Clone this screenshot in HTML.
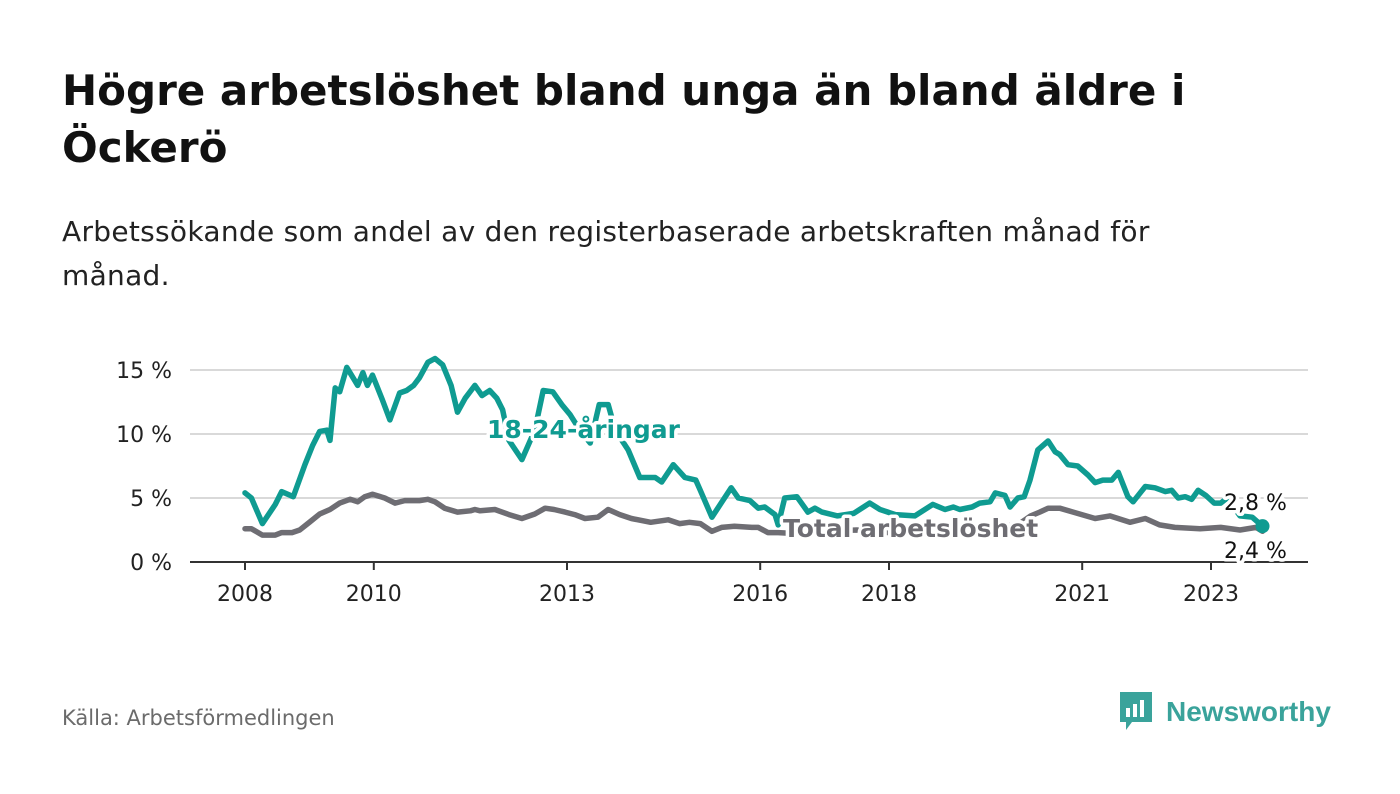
<!DOCTYPE html>
<html><head><meta charset="utf-8"><style>
body{margin:0;width:1400px;height:794px;background:#fff;font-family:"DejaVu Sans","Liberation Sans",sans-serif;overflow:hidden;position:relative;color:#111}
h1{position:absolute;left:62px;top:62px;margin:0;font-size:42px;line-height:57px;font-weight:bold;width:1300px;white-space:nowrap}
.sub{position:absolute;left:62px;top:210px;font-size:28px;line-height:44px;color:#222;width:1300px;white-space:nowrap;letter-spacing:0.3px}
.src{position:absolute;left:62px;top:706px;font-size:21px;color:#6b6b6b}
svg{position:absolute;left:0;top:0}
</style></head><body>
<h1>Högre arbetslöshet bland unga än bland äldre i<br>Öckerö</h1>
<div class="sub">Arbetssökande som andel av den registerbaserade arbetskraften månad för<br>månad.</div>
<div class="src">Källa: Arbetsförmedlingen</div>
<svg id="chart" width="1400" height="794"></svg>
<script>
const yTicks=[0,5,10,15];
const yTickLabels=["0 %","5 %","10 %","15 %"];
const xTicks=[2008,2010,2013,2016,2018,2021,2023];
const youngDates=[2008.0,2008.1,2008.27,2008.47,2008.57,2008.75,2008.93,2009.05,2009.16,2009.27,2009.32,2009.4,2009.47,2009.58,2009.75,2009.83,2009.9,2009.98,2010.13,2010.25,2010.4,2010.51,2010.62,2010.71,2010.84,2010.95,2011.07,2011.2,2011.3,2011.42,2011.57,2011.68,2011.8,2011.91,2012.0,2012.1,2012.3,2012.5,2012.63,2012.78,2012.92,2013.05,2013.2,2013.36,2013.5,2013.64,2013.75,2013.95,2014.13,2014.37,2014.47,2014.65,2014.83,2015.0,2015.07,2015.25,2015.38,2015.55,2015.66,2015.84,2015.97,2016.07,2016.23,2016.28,2016.38,2016.57,2016.74,2016.85,2016.96,2017.2,2017.45,2017.7,2017.86,2018.1,2018.4,2018.68,2018.87,2019.0,2019.1,2019.29,2019.41,2019.57,2019.65,2019.8,2019.88,2020.0,2020.1,2020.19,2020.31,2020.47,2020.58,2020.65,2020.78,2020.93,2021.09,2021.2,2021.32,2021.46,2021.56,2021.71,2021.79,2021.98,2022.13,2022.29,2022.39,2022.49,2022.6,2022.7,2022.8,2022.92,2023.05,2023.15,2023.25,2023.45,2023.64,2023.8];
const youngValues=[5.4,5.0,3.0,4.5,5.5,5.1,7.6,9.1,10.2,10.3,9.5,13.6,13.3,15.2,13.8,14.8,13.8,14.6,12.7,11.1,13.2,13.4,13.8,14.4,15.6,15.9,15.4,13.8,11.7,12.8,13.8,13.0,13.4,12.8,11.9,9.5,8.0,10.3,13.4,13.3,12.3,11.5,10.3,9.3,12.3,12.3,10.3,8.75,6.6,6.6,6.25,7.6,6.6,6.4,5.6,3.5,4.5,5.8,5.0,4.8,4.2,4.3,3.7,2.9,5.0,5.1,3.9,4.2,3.9,3.6,3.8,4.6,4.1,3.7,3.6,4.5,4.1,4.3,4.1,4.3,4.6,4.7,5.4,5.2,4.3,5.0,5.1,6.4,8.75,9.45,8.6,8.4,7.6,7.5,6.8,6.2,6.4,6.4,7.0,5.1,4.7,5.9,5.8,5.5,5.6,5.0,5.1,4.9,5.6,5.2,4.6,4.6,5.0,3.6,3.5,2.8];
const totalDates=[2008.0,2008.1,2008.27,2008.47,2008.57,2008.73,2008.85,2009.0,2009.16,2009.32,2009.47,2009.63,2009.75,2009.86,2009.98,2010.17,2010.33,2010.48,2010.71,2010.84,2010.95,2011.1,2011.3,2011.5,2011.57,2011.65,2011.88,2012.1,2012.3,2012.5,2012.66,2012.8,2012.97,2013.12,2013.28,2013.48,2013.64,2013.82,2014.0,2014.3,2014.57,2014.75,2014.9,2015.07,2015.25,2015.4,2015.6,2015.87,2015.97,2016.12,2016.28,2016.6,2017.0,2017.5,2018.0,2018.5,2019.0,2019.5,2020.0,2020.2,2020.34,2020.47,2020.65,2020.86,2021.2,2021.43,2021.74,2021.98,2022.2,2022.44,2022.83,2023.15,2023.45,2023.7,2023.8];
const totalValues=[2.6,2.6,2.1,2.1,2.3,2.3,2.5,3.1,3.75,4.1,4.6,4.9,4.7,5.1,5.3,5.0,4.6,4.8,4.8,4.9,4.7,4.2,3.9,4.0,4.1,4.0,4.1,3.7,3.4,3.75,4.2,4.1,3.9,3.7,3.4,3.5,4.1,3.7,3.4,3.1,3.3,3.0,3.1,3.0,2.4,2.7,2.8,2.7,2.7,2.3,2.3,2.2,2.4,2.5,2.3,2.4,2.6,2.7,2.9,3.6,3.9,4.2,4.2,3.9,3.4,3.6,3.1,3.4,2.9,2.7,2.6,2.7,2.5,2.7,2.4];
const NS="http://www.w3.org/2000/svg";
const svg=document.getElementById('chart');
const x0=190,x1=1308,y0=562;
function xs(t){return 245+(t-2008)*64.4;}
function ys(v){return y0-v*12.8;}
function mk(tag,attrs,parent){const e=document.createElementNS(NS,tag);for(const k in attrs)e.setAttribute(k,attrs[k]);(parent||svg).appendChild(e);return e;}
yTicks.forEach((v,i)=>{
  if(v>0){const g=mk('line',{x1:x0,x2:x1,y1:ys(v),y2:ys(v),stroke:'#d9d9d9','stroke-width':2});
  
  }
  const t=mk('text',{x:172,y:ys(v)+8,'text-anchor':'end','font-size':22,fill:'#222'});
  t.textContent=yTickLabels[i];
  
  
});
const ax=mk('line',{x1:x0,x2:x1,y1:y0,y2:y0,stroke:'#333','stroke-width':2});


xTicks.forEach(yr=>{
  const tk=mk('line',{x1:xs(yr),x2:xs(yr),y1:y0,y2:y0+8,stroke:'#333','stroke-width':2});
  
  
  const t=mk('text',{x:xs(yr),y:601,'text-anchor':'middle','font-size':22,fill:'#222'});
  t.textContent=yr;
  
  
});
function line(d,v,col,name){
  const p=mk('path',{d:d.map((t,i)=>(i?'L':'M')+xs(t).toFixed(1)+','+ys(v[i]).toFixed(1)).join(''),fill:'none',stroke:col,'stroke-width':5.5,'stroke-linejoin':'round','stroke-linecap':'round'});
  
  
}
line(totalDates,totalValues,'#6e6d73','line-total');
line(youngDates,youngValues,'#0f9b91','line-18-24');
const n=youngDates.length-1;
const dot=mk('circle',{cx:xs(youngDates[n]),cy:ys(youngValues[n]),r:7,fill:'#0f9b91'});


function lab(x,y,txt,col,size,weight,name,anchor){
  const t=mk('text',{x:x,y:y,fill:col,'font-size':size,'font-weight':weight,stroke:'#fff','stroke-width':7,'paint-order':'stroke','stroke-linejoin':'round','text-anchor':anchor||'start'});
  t.textContent=txt;
  
  
}
lab(487,438,'18-24-åringar','#0f9b91',25,'bold','label-18-24');
lab(783,537,'Total arbetslöshet','#6e6d73',25,'bold','label-total');
lab(1224,510,'2,8 %','#111',22,'normal','end-value-18-24');
lab(1224,558,'2,4 %','#111',22,'normal','end-value-total');
</script>
<div style="position:absolute;left:1118px;top:690px;height:44px;display:flex;align-items:center">
<svg width="36" height="44" style="position:static"><path d="M2 2h32v30H14l-6 8v-8H2z" fill="#3aa39b"/><rect x="8" y="18" width="4" height="9" fill="#fff"/><rect x="15" y="14" width="4" height="13" fill="#fff"/><rect x="22" y="10" width="4" height="17" fill="#fff"/></svg>
<span style="font-size:28px;font-weight:bold;color:#3aa39b;margin-left:12px;font-family:'Liberation Sans',sans-serif">Newsworthy</span></div>
</body></html>
